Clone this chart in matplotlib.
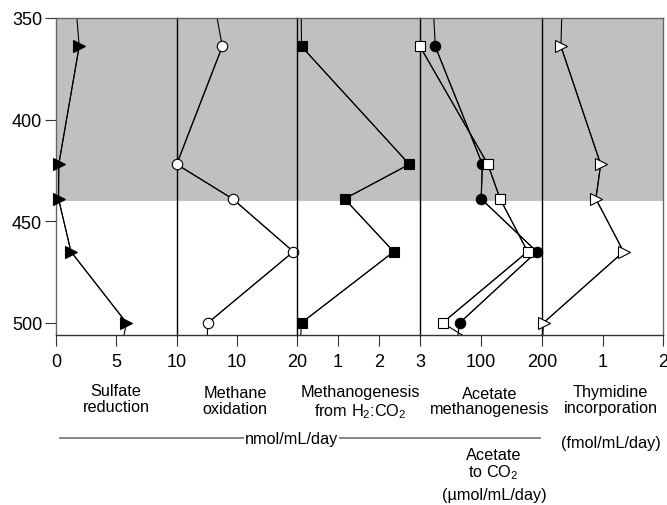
import matplotlib
matplotlib.use("Agg")
import matplotlib.pyplot as plt
from matplotlib.lines import Line2D

plt.rcParams["font.family"] = ["Liberation Sans", "DejaVu Sans"]
plt.rcParams["mathtext.fontset"] = "custom"
plt.rcParams["mathtext.rm"] = "Liberation Sans"
plt.rcParams["mathtext.it"] = "Liberation Sans:italic"
plt.rcParams["mathtext.bf"] = "Liberation Sans:bold"

# depths (the first / last entries lie just outside the plotted range)
depth = [340, 364, 422, 439, 465, 500, 510]
depth_co2 = [364, 422, 439, 465, 500, 510]

sulfate = [1.6, 1.92, 0.23, 0.21, 1.24, 5.84, 5.5]            # nmol/mL/day
methane_ox = [6.1, 7.58, 0.0, 9.3, 19.4, 5.2, 5.0]            # nmol/mL/day
h2_methanogenesis = [0.1, 0.11, 2.74, 1.16, 2.36, 0.11, 0.08]  # nmol/mL/day
acetate_methano = [21, 25, 102, 100, 191, 65, 60]            # nmol/mL/day
acetate_co2 = [0, 111, 131, 176, 37, 90]                      # umol/mL/day
thymidine = [0.33, 0.31, 0.97, 0.89, 1.35, 0.02, 0.0]         # fmol/mL/day

W, H = 667, 506
edges = [56, 176.7, 297, 420, 542.3, 662.7]
top_px, bot_px = 19, 336

xlims = [(0, 10), (0, 20), (0, 3), (0, 200), (0, 2)]
xticks = [[0, 5, 10], [10, 20], [1, 2, 3], [100, 200], [1, 2]]

outer = "#666666"
fig = plt.figure(figsize=(W / 100, H / 100), dpi=100)

axes = []
for i in range(5):
    x0, x1 = edges[i], edges[i + 1]
    ax = fig.add_axes([x0 / W, 1 - bot_px / H, (x1 - x0) / W, (bot_px - top_px) / H])
    ax.set_facecolor("none")
    ax.set_xlim(*xlims[i])
    ax.set_ylim(506, 350)
    ax.axhspan(350, 440, color="#c0c0c0", lw=0, zorder=0)
    ax.set_xticks(xticks[i])
    ax.set_xticklabels([str(t) for t in xticks[i]])
    ax.tick_params(axis="x", direction="out", length=8, width=0.8, color="#333333",
                   labelsize=13, pad=5)
    if i == 0:
        ax.set_yticks([350, 400, 450, 500])
        ax.tick_params(axis="y", direction="out", length=8, width=0.8, color="#333333",
                       labelsize=13, pad=2)
    else:
        ax.set_yticks([])
    ax.spines["top"].set_color(outer)
    ax.spines["top"].set_linewidth(1.0)
    ax.spines["bottom"].set_color("#333333")
    ax.spines["bottom"].set_linewidth(1.0)
    if i == 0:
        ax.spines["left"].set_color(outer)
    else:
        ax.spines["left"].set_color("black")
    ax.spines["left"].set_linewidth(1.0)
    if i == 4:
        ax.spines["right"].set_color(outer)
        ax.spines["right"].set_linewidth(1.0)
    else:
        ax.spines["right"].set_visible(False)
    axes.append(ax)


def profile(ax, x, y, marker, face, ms=7.5):
    ax.plot(x, y, color="black", lw=0.8, zorder=2)
    ax.plot(x, y, ls="none", marker=marker, ms=ms, mfc=face, mec="black",
            mew=0.8, zorder=3, clip_on=False)


profile(axes[0], sulfate[1:-1], depth[1:-1], ">", "black", 8)
axes[0].plot(sulfate, depth, color="black", lw=0.8)
profile(axes[1], methane_ox[1:-1], depth[1:-1], "o", "white")
axes[1].plot(methane_ox, depth, color="black", lw=0.8)
profile(axes[2], h2_methanogenesis[1:-1], depth[1:-1], "s", "black", 7)
axes[2].plot(h2_methanogenesis, depth, color="black", lw=0.8)
profile(axes[3], acetate_methano[1:-1], depth[1:-1], "o", "black")
axes[3].plot(acetate_methano, depth, color="black", lw=0.8)
profile(axes[3], acetate_co2[:-1], depth_co2[:-1], "s", "white")
axes[3].plot(acetate_co2, depth_co2, color="black", lw=0.8)
profile(axes[4], thymidine[1:-1], depth[1:-1], ">", "white", 8)
axes[4].plot(thymidine, depth, color="black", lw=0.8)


def ftext(x, y, s, **kw):
    fig.text(x / W, 1 - y / H, s, fontsize=11.7, ha="center", **kw)


ftext(116, 395.7, "Sulfate", va="baseline")
ftext(116, 411.7, "reduction", va="baseline")
ftext(235.3, 397.7, "Methane", va="baseline")
ftext(235.3, 414, "oxidation", va="baseline")
ftext(360.6, 397.5, "Methanogenesis", va="baseline")
ftext(360.6, 416.5, "from H$_2$:CO$_2$", va="baseline")
ftext(490, 398.7, "Acetate", va="baseline")
ftext(490, 414, "methanogenesis", va="baseline")
ftext(610.5, 396.7, "Thymidine", va="baseline")
ftext(610.5, 413.3, "incorporation", va="baseline")
ftext(610.8, 443.3, "(fmol/mL/day)", va="center")
ftext(493.3, 460, "Acetate", va="baseline")
ftext(493.3, 477.7, "to CO$_2$", va="baseline")
ftext(494, 495.7, "(\u00b5mol/mL/day)", va="center")

fig.add_artist(Line2D([60 / W, 540 / W], [1 - 439.3 / H, 1 - 439.3 / H],
                      transform=fig.transFigure, color="#707070", lw=1.2))
ftext(291.5, 440, "nmol/mL/day", va="center",
      bbox=dict(facecolor="white", edgecolor="none", pad=0.5))

fig.savefig("out.png", dpi=100)
